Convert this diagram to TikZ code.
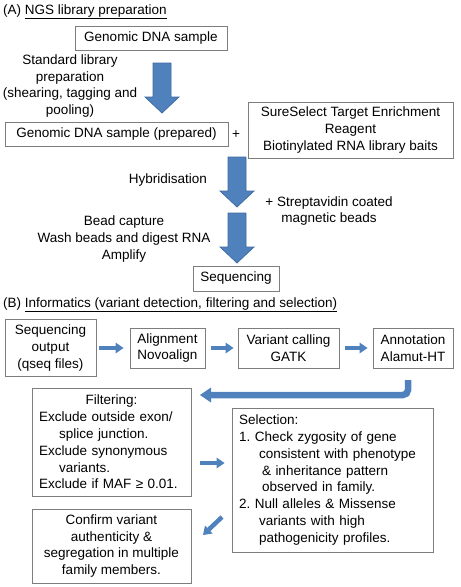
\documentclass[tikz,border=0pt]{standalone}
\usepackage{fontspec}
\setmainfont{Liberation Sans}
\usetikzlibrary{arrows.meta,calc}
\definecolor{arrfill}{RGB}{79,129,189}
\definecolor{arrline}{RGB}{62,104,160}
\definecolor{boxline}{RGB}{125,125,125}
\newcommand{\blockarr}[2]{%
  \draw[bigarr] ($(#1)+(-9,0)$) -- ($(#2)+(-9,-16)$) -- ($(#2)+(-17,-16)$) -- (#2)
    -- ($(#2)+(17,-16)$) -- ($(#2)+(9,-16)$) -- ($(#1)+(9,0)$) -- cycle;}
\frenchspacing
\begin{document}
\begin{tikzpicture}[x=1pt,y=-1pt,
  every node/.style={font=\fontsize{13.5}{16.8}\selectfont\frenchspacing, inner sep=0pt},
  box/.style={draw=boxline, line width=0.9pt},
  lbox/.style={box, align=left, inner xsep=7pt},
  bigarr/.style={fill=arrfill, draw=arrline, line width=0.7pt, line join=miter},
  smallarr/.style={draw=arrfill, line width=4.5pt, -{Triangle[width=11pt,length=8pt,line width=0pt]}},
  bentarr/.style={draw=arrfill, line width=6.5pt, rounded corners=5pt, -{Triangle[width=15pt,length=11pt,line width=0pt]}}]
\useasboundingbox (0,0) rectangle (461,587);

% ---------- (A) ----------
\node[anchor=west] (titleA) at (3,12) {(A) \underline{NGS library preparation}};
\node[box, minimum width=152pt, minimum height=24pt] (gdna) at (151,38) {Genomic DNA sample};
\node[align=center] (stdlib) at (70,86) {Standard library\\preparation\\(shearing, tagging and\\pooling)};
\node[box, minimum width=223pt, minimum height=24pt] (prep) at (116.5,134) {Genomic DNA sample (prepared)};
\node (plus1) at (236,135) {+};
\node[box, align=center, minimum width=205pt, minimum height=56pt] (sure) at (350.5,130)
  {SureSelect Target Enrichment\\Reagent\\Biotinylated RNA library baits};
\node (hyb) at (168,180) {Hybridisation};
\node[align=center] (strep) at (329,211) {+ Streptavidin coated\\magnetic beads};
\node[align=center] (bead) at (124,239) {Bead capture\\Wash beads and digest RNA\\Amplify};
\node[box, minimum width=86pt, minimum height=25pt] (seq) at (236,278.5) {Sequencing};

\coordinate (a1s) at (162,63);  \coordinate (a1e) at (162,113);
\coordinate (a2s) at (237,157); \coordinate (a2e) at (237,207);
\coordinate (a3s) at (237,213); \coordinate (a3e) at (237,263);
\blockarr{a1s}{a1e}
\blockarr{a2s}{a2e}
\blockarr{a3s}{a3e}

% ---------- (B) ----------
\node[anchor=west] (titleB) at (3,305) {(B) \underline{Informatics (variant detection, filtering and selection)}};
\node[box, align=center, minimum width=91pt, minimum height=57pt] (out) at (50.5,348) {Sequencing\\output\\(qseq files)};
\node[box, align=center, minimum width=75pt, minimum height=40pt] (aln) at (167.5,348) {Alignment\\Novoalign};
\node[box, align=center, minimum width=101pt, minimum height=40pt] (call) at (288.5,348) {Variant calling\\GATK};
\node[box, align=center, minimum width=80pt, minimum height=40pt] (ann) at (413,348) {Annotation\\Alamut-HT};

\node[lbox, text width=145pt, minimum height=108pt] (filt) at (111.5,442)
  {\makebox[\hsize]{Filtering:}\\Exclude outside exon/\\\hspace*{20pt}splice junction.\\Exclude synonymous\\\hspace*{20pt}variants.\\Exclude if MAF ≥ 0.01.};
\node[lbox, text width=187pt, minimum height=144pt] (sel) at (332.5,480)
  {Selection:\\1. Check zygosity of gene\\\hspace*{20pt}consistent with phenotype\\\hspace*{23pt}\& inheritance pattern\\\hspace*{23pt}observed in family.\\2. Null alleles \& Missense\\\hspace*{20pt}variants with high\\\hspace*{20pt}pathogenicity profiles.};
\node[box, align=center, minimum width=159pt, minimum height=74pt] (conf) at (111.5,546)
  {Confirm variant\\authenticity \&\\segregation in multiple\\family members.};

\draw[smallarr, shorten <=3pt, shorten >=6pt] (out.east) -- (aln.west);
\draw[smallarr, shorten <=6pt, shorten >=4pt] (aln.east) -- (call.west);
\draw[smallarr, shorten <=6pt, shorten >=5pt] (call.east) -- (ann.west);

\coordinate (bendtop) at (408,380);
\coordinate (bendend) at (200,395);
\draw[bentarr] (bendtop) |- (bendend);

\coordinate (fs) at (0,463);
\draw[smallarr, shorten <=9pt, shorten >=7pt] (filt.east |- fs) -- (sel.west |- fs);

\coordinate (d1) at (222,517);
\coordinate (d2) at (203,535);
\draw[smallarr] (d1) -- (d2);
\end{tikzpicture}
\end{document}
